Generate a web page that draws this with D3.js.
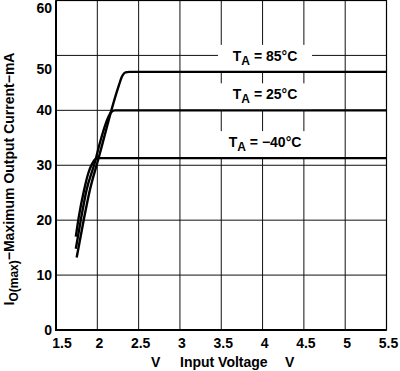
<!DOCTYPE html>
<html>
<head>
<meta charset="utf-8">
<script src="https://cdn.jsdelivr.net/npm/d3@7"></script>
<style>
  body { margin: 0; background: #fff; }
  svg { display: block; font-family: "Liberation Sans", Arial, sans-serif; font-weight: bold; }
</style>
</head>
<body>
<svg></svg>
<script>
var width = 400;
var height = 371;

// axis ticks
var voltTicks = [1.5, 2, 2.5, 3, 3.5, 4, 4.5, 5, 5.5];
var currentTicks = [0, 10, 20, 30, 40, 50, 60];

// curves
var tempLabels = ['85', '25', '\u221240'];
var volts85 = [1.75, 1.835, 1.91, 2.01, 2.09, 2.17, 2.26, 2.30, 2.34, 2.39, 5.5];
var amps85  = [13.2, 20, 25.5, 31, 35.5, 40, 44.5, 46.2, 46.9, 47, 47];
var volts25 = [1.74, 1.80, 1.87, 1.97, 2.03, 2.10, 2.16, 2.21, 5.5];
var amps25  = [14.8, 20, 25.5, 30.5, 34, 37.5, 39.5, 40, 40];
var voltsM40 = [1.74, 1.775, 1.84, 1.89, 1.935, 1.975, 2.02, 5.5];
var ampsM40  = [17, 20.5, 25.5, 28.5, 30.2, 31.1, 31.3, 31.3];

var series = [
  { temp: tempLabels[0], pts: d3.zip(volts85, amps85) },
  { temp: tempLabels[1], pts: d3.zip(volts25, amps25) },
  { temp: tempLabels[2], pts: d3.zip(voltsM40, ampsM40) }
];

var xScale = d3.scaleLinear().domain([1.5, 5.5]).range([56, 386.5]);
var yScale = d3.scaleLinear().domain([0, 60]).range([330, 0.5]);

var svg = d3.select('svg')
  .attr('width', width)
  .attr('height', height);

svg.append('rect')
  .attr('width', width).attr('height', height).attr('fill', '#fff');

// grid
svg.append('g')
  .selectAll('line')
  .data(voltTicks.slice(1, -1))
  .enter()
  .append('line')
    .attr('x1', d => xScale(d)).attr('x2', d => xScale(d))
    .attr('y1', yScale(60)).attr('y2', yScale(0))
    .attr('stroke', '#111').attr('stroke-width', 1);

svg.append('g')
  .selectAll('line')
  .data(currentTicks.slice(1, -1))
  .enter()
  .append('line')
    .attr('x1', xScale(1.5)).attr('x2', xScale(5.5))
    .attr('y1', d => yScale(d)).attr('y2', d => yScale(d))
    .attr('stroke', '#111').attr('stroke-width', 1);

// curve labels with white boxes
var line = d3.line()
  .x(d => xScale(d[0]))
  .y(d => yScale(d[1]))
  .curve(d3.curveMonotoneX);

var labelV = 4.03;
series.forEach(function(s) {
  var level = s.pts[s.pts.length - 1][1];
  var base = yScale(level) - 11;
  var cx = xScale(labelV);
  svg.append('rect')
    .attr('x', cx - 47).attr('y', base - 16)
    .attr('width', 94).attr('height', yScale(level) - base + 16)
    .attr('fill', '#fff');
  var t = svg.append('text')
    .attr('x', cx).attr('y', base)
    .attr('text-anchor', 'middle')
    .style('font-size', '14px');
  t.append('tspan').text('T');
  t.append('tspan').attr('dy', 4).style('font-size', '12px').text('A');
  t.append('tspan').attr('dy', -4).text(' = ' + s.temp + '\u00B0C');
});

// frame
svg.append('rect')
  .attr('x', xScale(1.5)).attr('y', yScale(60))
  .attr('width', xScale(5.5) - xScale(1.5))
  .attr('height', yScale(0) - yScale(60))
  .attr('fill', 'none').attr('stroke', '#000').attr('stroke-width', 1.2);
svg.append('line')
  .attr('x1', xScale(1.5)).attr('x2', xScale(1.5))
  .attr('y1', yScale(60)).attr('y2', yScale(0) + 1)
  .attr('stroke', '#000').attr('stroke-width', 2);
svg.append('line')
  .attr('x1', xScale(1.5) - 1).attr('x2', xScale(5.5))
  .attr('y1', yScale(0)).attr('y2', yScale(0))
  .attr('stroke', '#000').attr('stroke-width', 2);

// curves
svg.append('g')
  .selectAll('path')
  .data(series)
  .enter()
  .append('path')
    .attr('d', d => line(d.pts))
    .attr('fill', 'none')
    .attr('stroke', '#000')
    .attr('stroke-width', 2.4);

// y tick labels
var yNudge = { 60: 8, 50: 14 };
svg.append('g')
  .selectAll('text')
  .data(currentTicks)
  .enter()
  .append('text')
    .attr('x', 52)
    .attr('y', d => yScale(d) + (yNudge[d] || 0))
    .attr('dy', '0.35em')
    .attr('text-anchor', 'end')
    .style('font-size', '14px')
    .text(d => d);

// x tick labels
svg.append('g')
  .selectAll('text')
  .data(voltTicks)
  .enter()
  .append('text')
    .attr('x', (d, i) => xScale(d) + (i === 0 ? 6 : 2))
    .attr('y', 348)
    .attr('text-anchor', 'middle')
    .style('font-size', '14px')
    .text(d => d);

// x axis title
var xt = svg.append('text')
  .attr('y', 367)
  .style('font-size', '14px');
xt.append('tspan').attr('x', 151).text('V');
xt.append('tspan').attr('x', 180).text('Input Voltage');
xt.append('tspan').attr('x', 285).text('V');

// y axis title
var yt = svg.append('text')
  .attr('transform', 'translate(14, 179) rotate(-90)')
  .attr('text-anchor', 'middle')
  .style('font-size', '14px');
yt.append('tspan').text('I');
yt.append('tspan').attr('dy', 4).style('font-size', '12px').text('O(max)');
yt.append('tspan').attr('dy', -4).text('\u2212Maximum Output Current\u2212mA');
</script>
</body>
</html>
